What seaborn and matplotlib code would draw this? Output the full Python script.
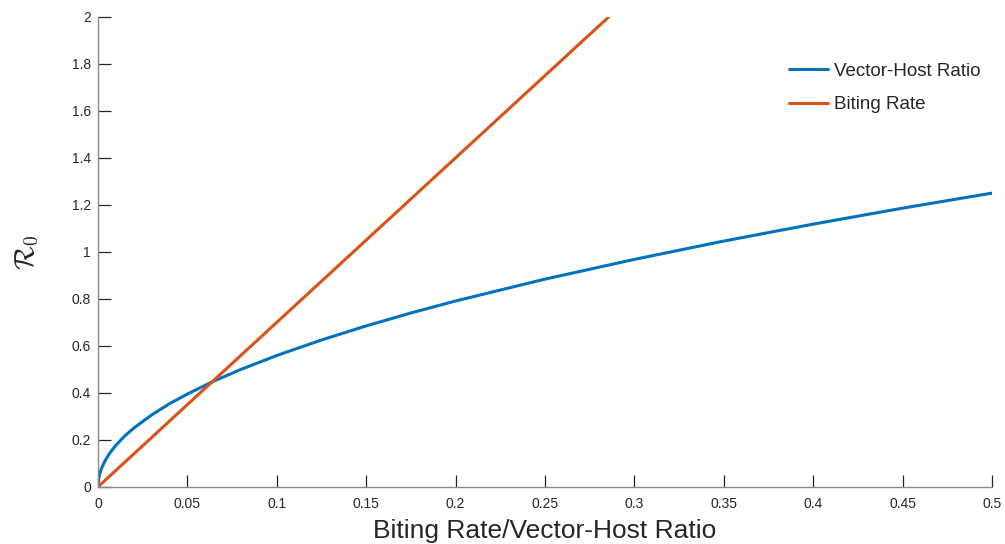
import matplotlib
matplotlib.use("Agg")
import matplotlib.pyplot as plt
import seaborn as sns
import pandas as pd

# R0 as a function of the vector-host ratio
vh_ratio = [0, 0.0005, 0.001, 0.002, 0.004, 0.006, 0.008, 0.01, 0.015, 0.02,
            0.03, 0.04, 0.05, 0.065, 0.08, 0.1, 0.125, 0.15, 0.175, 0.2,
            0.25, 0.3, 0.35, 0.4, 0.45, 0.5]
r0_vh = [0, 0.040, 0.056, 0.079, 0.112, 0.137, 0.158, 0.177, 0.217, 0.250,
         0.306, 0.354, 0.395, 0.451, 0.500, 0.559, 0.625, 0.685, 0.740, 0.791,
         0.884, 0.968, 1.046, 1.118, 1.186, 1.25]

# R0 as a function of the biting rate
biting_rate = [0, 0.2857]
r0_bite = [0, 2.0]

x_ticks = [0, 0.05, 0.1, 0.15, 0.2, 0.25, 0.3, 0.35, 0.4, 0.45, 0.5]
x_tick_labels = ["0", "0.05", "0.1", "0.15", "0.2", "0.25", "0.3", "0.35", "0.4", "0.45", "0.5"]
y_ticks = [0, 0.2, 0.4, 0.6, 0.8, 1.0, 1.2, 1.4, 1.6, 1.8, 2.0]
y_tick_labels = ["0", "0.2", "0.4", "0.6", "0.8", "1", "1.2", "1.4", "1.6", "1.8", "2"]

series_names = ["Vector-Host Ratio", "Biting Rate"]
colors = ["#0072BD", "#D95319"]

df = pd.concat([
    pd.DataFrame({"x": vh_ratio, "R0": r0_vh, "series": series_names[0]}),
    pd.DataFrame({"x": biting_rate, "R0": r0_bite, "series": series_names[1]}),
], ignore_index=True)

sns.set_theme(style="ticks")
plt.rcParams["font.family"] = ["Liberation Sans", "DejaVu Sans"]
plt.rcParams["mathtext.fontset"] = "cm"

fig = plt.figure(figsize=(10.05, 5.44), dpi=100)
ax = fig.add_axes([0.0975, 0.105, 0.8895, 0.864])

sns.lineplot(data=df, x="x", y="R0", hue="series", hue_order=series_names,
             palette=colors, linewidth=2.2, ax=ax, sort=False, estimator=None)

ax.set_xlim(0, 0.5)
ax.set_ylim(0, 2)
ax.set_xticks(x_ticks)
ax.set_xticklabels(x_tick_labels)
ax.set_yticks(y_ticks)
ax.set_yticklabels(y_tick_labels)

spine_col = "#8a8a8a"
for side in ["top", "right"]:
    ax.spines[side].set_visible(False)
for side in ["left", "bottom"]:
    ax.spines[side].set_color(spine_col)
    ax.spines[side].set_linewidth(1.0)
ax.tick_params(direction="in", length=9, width=0.9, color="#262626",
               labelsize=10, labelcolor="#262626")
ax.tick_params(axis="x", pad=7)
ax.tick_params(axis="y", pad=5)

ax.set_xlabel("Biting Rate/Vector-Host Ratio", fontsize=19, color="#262626", labelpad=6)
ax.set_ylabel(r"$\mathcal{R}_0$", fontsize=20, color="#262626", labelpad=22)

leg = ax.legend(loc="upper right", bbox_to_anchor=(1.006, 0.938), frameon=False,
                fontsize=13.5, handlelength=2.1, handletextpad=0.3, labelspacing=0.85)
for t in leg.get_texts():
    t.set_color("#262626")

fig.savefig("out.png", dpi=100)
